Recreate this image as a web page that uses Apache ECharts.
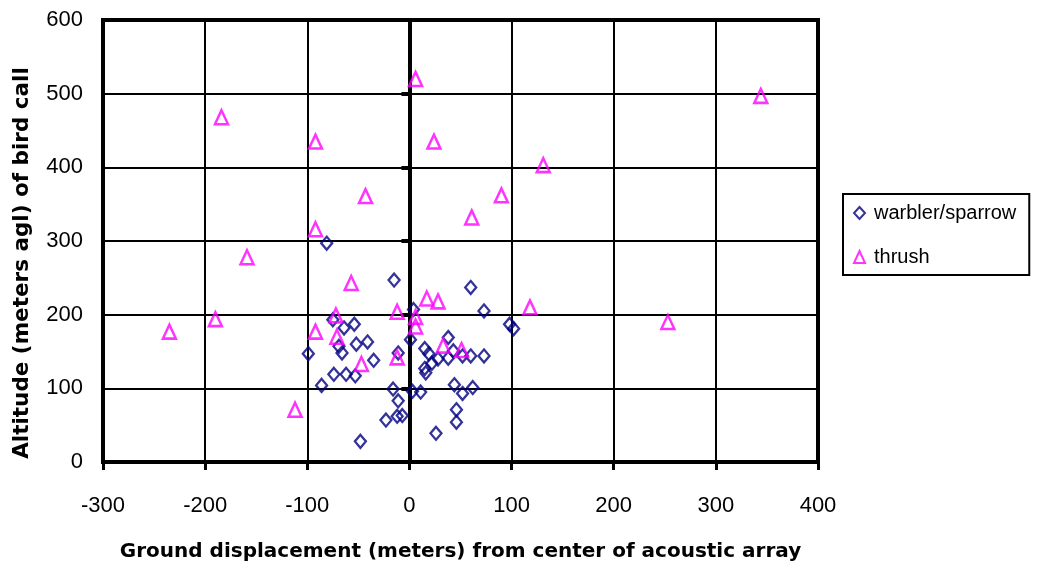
<!DOCTYPE html>
<html>
<head>
<meta charset="utf-8">
<script src="https://cdn.jsdelivr.net/npm/echarts@6/dist/echarts.min.js"></script>
<style>
html,body{margin:0;padding:0;background:#fff;}
#chart{width:1053px;height:564px;}
</style>
</head>
<body>
<div id="chart"></div>
<script>
var xTicks = [-300, -200, -100, 0, 100, 200, 300, 400];
var yTicks = [0, 100, 200, 300, 400, 500, 600];
var seriesNames = ['warbler/sparrow', 'thrush'];

var warblerSparrow = [
  [-81,297],[-15,247],[60,237],[4,207],[73,205],[98,187],[102,181],[-75,193],
  [-64,182],[-54,187],[-52,160],[-41,163],[-69,157],[-66,148],[-99,147],[-35,138],
  [-74,119],[-62,119],[-53,117],[-86,104],[1,166],[-11,148],[15,154],[19,147],
  [38,169],[43,151],[28,140],[38,141],[52,144],[60,144],[73,144],[22,134],
  [15,127],[16,121],[-16,99],[-11,83],[3,96],[11,95],[44,105],[52,93],
  [62,101],[46,71],[46,54],[-23,57],[-12,62],[-7,63],[26,39],[-48,28]
];

var thrush = [
  [6,520],[344,497],[-184,468],[-92,435],[24,435],[131,403],[-43,361],[90,362],
  [61,332],[-92,316],[-159,278],[-57,243],[17,222],[28,218],[118,210],[-12,204],
  [6,197],[6,184],[-72,199],[-190,194],[-235,177],[-92,177],[-71,170],[253,190],
  [33,158],[51,152],[-47,133],[-12,142],[-112,71]
];

var TICKFONT = 'Liberation Sans';
var TITLEFONT = 'DejaVu Sans';
var chart = echarts.init(document.getElementById('chart'), null, {renderer: 'canvas'});
chart.setOption({
  animation: false,
  backgroundColor: '#fff',
  grid: {
    left: 103, top: 20, right: 235, bottom: 102,
    containLabel: false, outerBoundsMode: 'none',
    show: true, borderColor: '#000', borderWidth: 4, backgroundColor: 'transparent'
  },
  legend: {
    orient: 'vertical',
    left: 843, top: 194,
    data: seriesNames,
    borderColor: '#000', borderWidth: 2,
    padding: [9, 13, 8, 10],
    itemGap: 24,
    itemWidth: 11, itemHeight: 12,
    textStyle: {fontFamily: TICKFONT, fontSize: 20, color: '#000', padding: [0, 0, 0, 4]}
  },
  xAxis: {
    type: 'value',
    min: xTicks[0], max: xTicks[xTicks.length - 1], interval: 100,
    name: 'Ground displacement (meters) from center of acoustic array',
    nameLocation: 'middle', nameGap: 80,
    nameTextStyle: {fontFamily: TITLEFONT, fontSize: 20, fontWeight: 'bold', color: '#000'},
    axisLine: {show: false},
    axisTick: {show: true, inside: false, length: 8, lineStyle: {color: '#000', width: 3}},
    axisLabel: {fontFamily: TICKFONT, fontSize: 22, color: '#000', margin: 33},
    splitLine: {show: true, lineStyle: {color: '#000', width: 2}}
  },
  yAxis: [{
    type: 'value',
    min: yTicks[0], max: yTicks[yTicks.length - 1], interval: 100,
    name: 'Altitude (meters agl) of bird call',
    nameLocation: 'middle', nameGap: 70, nameRotate: 90,
    nameTextStyle: {fontFamily: TITLEFONT, fontSize: 21.5, fontWeight: 'bold', color: '#000', padding: [0, 44, 0, 0]},
    axisLine: {show: false},
    axisTick: {show: false},
    axisLabel: {fontFamily: TICKFONT, fontSize: 22, color: '#000', margin: 20},
    splitLine: {show: true, lineStyle: {color: '#000', width: 2}}
  }, {
    type: 'value',
    position: 'left',
    offset: 0,
    min: yTicks[0], max: yTicks[yTicks.length - 1], interval: 100,
    axisLine: {show: true, onZero: false, lineStyle: {color: '#000', width: 4}},
    axisTick: {show: true, inside: false, length: 8, lineStyle: {color: '#000', width: 4}},
    axisLabel: {show: false},
    splitLine: {show: false}
  }],
  series: [{
    name: seriesNames[0],
    type: 'scatter',
    symbol: 'diamond',
    symbolSize: [11, 13],
    itemStyle: {color: 'rgba(255,255,255,0)', borderColor: '#000080', borderWidth: 2.3},
    data: warblerSparrow,
    z: 3
  }, {
    name: seriesNames[1],
    type: 'scatter',
    symbol: 'triangle',
    symbolSize: [13, 14],
    itemStyle: {color: 'rgba(255,255,255,0)', borderColor: '#FF00FF', borderWidth: 2.5},
    data: thrush,
    z: 4
  }]
});
// place the secondary y axis line at x = 0 using the library's own scale
var pxZero = chart.convertToPixel({xAxisIndex: 0}, 0);
var pxMin = chart.convertToPixel({xAxisIndex: 0}, xTicks[0]);
chart.setOption({yAxis: [{}, {offset: pxMin - pxZero}]});
</script>
</body>
</html>
